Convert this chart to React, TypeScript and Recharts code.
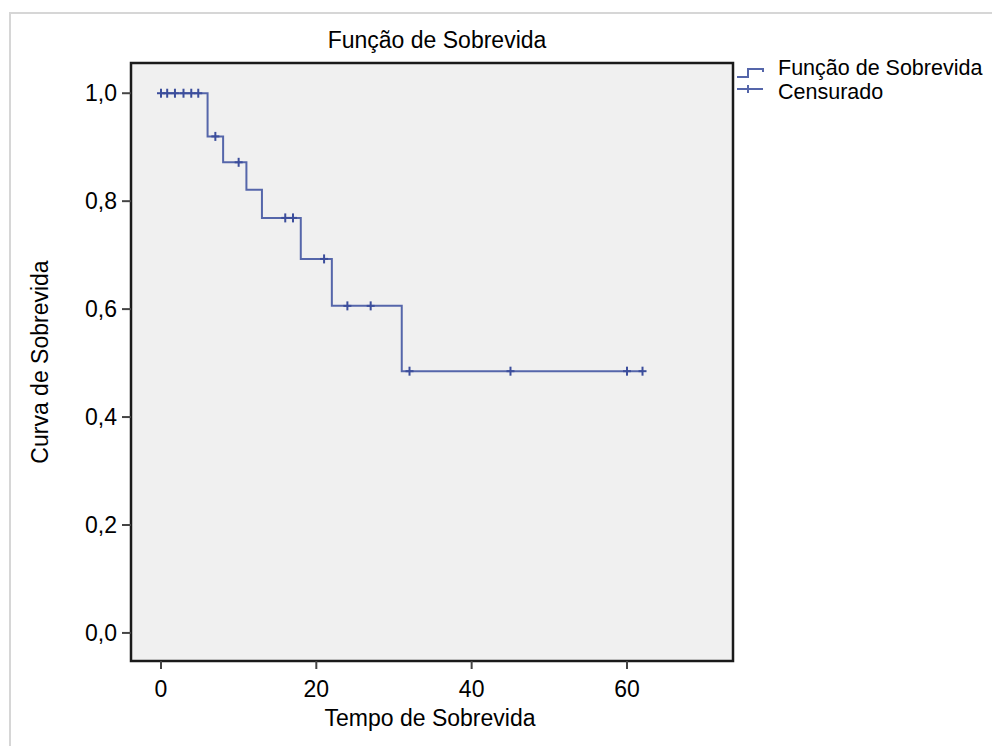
import React from 'react';
import {
  ComposedChart,
  Line,
  Scatter,
  XAxis,
  YAxis,
  CartesianGrid,
  ReferenceArea,
} from 'recharts';

// Kaplan-Meier step points (time, survival)
const stepTimes = [0, 6, 8, 11, 13, 18, 22, 31, 62];
const stepSurvival = [1.0, 0.92, 0.872, 0.821, 0.769, 0.693, 0.606, 0.485, 0.485];

// Censored observations (time, survival at that time)
const censorTimes = [0, 0.8, 1.8, 2.9, 3.9, 4.8, 7, 10, 16, 17, 21, 24, 27, 32, 45, 60, 62];
const censorSurvival = [1, 1, 1, 1, 1, 1, 0.92, 0.872, 0.769, 0.769, 0.693, 0.606, 0.606, 0.485, 0.485, 0.485, 0.485];

const xTicks = [0, 20, 40, 60];
const yTicks = [0, 0.2, 0.4, 0.6, 0.8, 1.0];
const xDomain = [-3.86, 73.65];
const yDomain = [-0.052, 1.056];

const titleText = 'Função de Sobrevida';
const xTitle = 'Tempo de Sobrevida';
const yTitle = 'Curva de Sobrevida';
const legendLabels = ['Função de Sobrevida', 'Censurado'];

const stepData = stepTimes.map((t, i) => ({ t, s: stepSurvival[i] }));
const censorData = censorTimes.map((t, i) => ({ t, s: censorSurvival[i] }));

const LINE = '#5566aa';
const MARK = '#3c4e9c';
const FONT = '"Liberation Sans", Arial, sans-serif';

const Cross = (props: any) => {
  const { cx, cy } = props;
  if (cx == null || cy == null) return null;
  return (
    <g>
      <line x1={cx - 4} y1={cy} x2={cx + 4} y2={cy} stroke={MARK} strokeWidth={2} />
      <line x1={cx} y1={cy - 4.5} x2={cx} y2={cy + 4.5} stroke={MARK} strokeWidth={2} />
    </g>
  );
};

const fmt = (v: number) => v.toFixed(1).replace('.', ',');

export default function App() {
  return (
    <div style={{ position: 'relative', width: 984, height: 738 }}>
      <style>{'html,body{overflow:hidden;}'}</style>
      <div
        style={{
          position: 'absolute',
          left: 1,
          top: 4,
          width: 1100,
          height: 800,
          borderLeft: '2px solid #d6d6d6',
          borderTop: '2px solid #d6d6d6',
          boxSizing: 'border-box',
        }}
      />
      <div style={{ position: 'absolute', left: 0, top: 0 }}>
        <ComposedChart
          width={992}
          height={738}
          margin={{ top: 55, right: 267, left: 43, bottom: 25 }}
        >
          <CartesianGrid fill="#f0f0f0" horizontal={false} vertical={false} />
          <XAxis
            type="number"
            dataKey="t"
            domain={xDomain}
            ticks={xTicks}
            allowDataOverflow
            height={60}
            axisLine={false}
            tickSize={8}
            tickMargin={12}
            tickLine={{ stroke: '#444', strokeWidth: 2 }}
            tick={{ fill: '#000', fontSize: 23, fontFamily: FONT }}
          />
          <YAxis
            type="number"
            dataKey="s"
            domain={yDomain}
            ticks={yTicks}
            allowDataOverflow
            width={80}
            axisLine={false}
            tickSize={9}
            tickMargin={5}
            tickFormatter={fmt}
            tickLine={{ stroke: '#444', strokeWidth: 2 }}
            tick={{ fill: '#000', fontSize: 23, fontFamily: FONT }}
          />
          <ReferenceArea
            x1={xDomain[0]}
            x2={xDomain[1]}
            y1={yDomain[0]}
            y2={yDomain[1]}
            fill="none"
            fillOpacity={0}
            stroke="#1a1a1a"
            strokeWidth={2.5}
            ifOverflow="visible"
          />
          <Line
            data={stepData}
            dataKey="s"
            type="stepAfter"
            stroke={LINE}
            strokeWidth={2}
            dot={false}
            activeDot={false}
            isAnimationActive={false}
          />
          <Scatter
            data={censorData}
            dataKey="s"
            shape={Cross}
            isAnimationActive={false}
          />
        </ComposedChart>
      </div>
      <svg
        width={1000}
        height={754}
        style={{ position: 'absolute', left: -8, top: -8, pointerEvents: 'none' }}
      >
        <text x={437} y={48} textAnchor="middle" fontSize={23} fontFamily={FONT} fill="#000">
          {titleText}
        </text>
        <text x={430} y={726} textAnchor="middle" fontSize={23} fontFamily={FONT} fill="#000">
          {xTitle}
        </text>
        <text
          x={0}
          y={0}
          transform="translate(48,362) rotate(-90)"
          textAnchor="middle"
          fontSize={23}
          fontFamily={FONT}
          fill="#000"
        >
          {yTitle}
        </text>
        <polyline
          points="737,77 748,77 748,69 763,69 763,72"
          fill="none"
          stroke={LINE}
          strokeWidth={2}
        />
        <line x1={737} y1={89} x2={763} y2={89} stroke={LINE} strokeWidth={2} />
        <line x1={748} y1={85} x2={748} y2={93} stroke={LINE} strokeWidth={2} />
        <text x={778} y={74.5} fontSize={21.5} fontFamily={FONT} fill="#000">
          {legendLabels[0]}
        </text>
        <text x={778} y={98.5} fontSize={21.5} fontFamily={FONT} fill="#000">
          {legendLabels[1]}
        </text>
      </svg>
    </div>
  );
}
